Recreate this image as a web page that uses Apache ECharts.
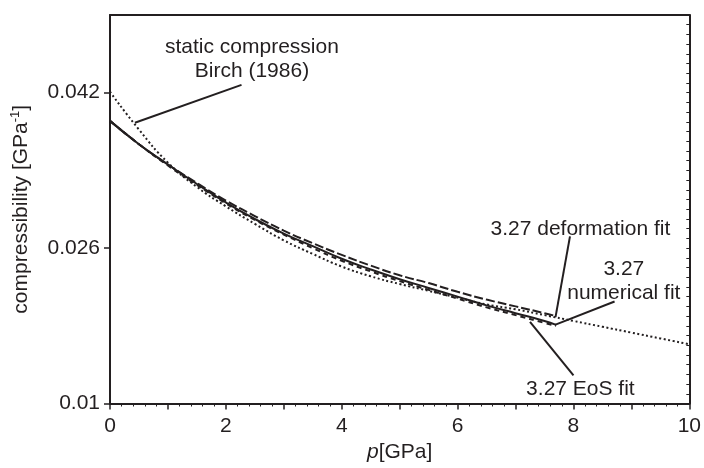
<!DOCTYPE html>
<html>
<head>
<meta charset="utf-8">
<script src="https://cdn.jsdelivr.net/npm/echarts@6/dist/echarts.min.js"></script>
<style>html,body{margin:0;padding:0;background:#fff}#c{width:704px;height:468px}</style>
</head>
<body>
<div id="c"></div>
<script>
// ---- data ----
const pressureFit = [0,0.5,1,1.5,2,2.5,3,3.5,4,4.5,5,5.5,6,6.5,7,7.5,7.7];
const numericalFit = [0.0391,0.0367,0.0346,0.0326,0.0307,0.0290,0.0275,0.0262,0.0249,0.0238,0.0228,0.0219,0.0210,0.0201,0.0193,0.0185,0.0181];
const deformationFit = [0.0391,0.0367,0.0346,0.0327,0.0309,0.0293,0.0278,0.0265,0.0253,0.0242,0.0232,0.0224,0.0215,0.0207,0.0200,0.0193,0.0190];
const eosFit = [0.0391,0.0367,0.0345,0.0325,0.0306,0.0289,0.0274,0.0260,0.0247,0.0236,0.0226,0.0217,0.0208,0.0199,0.0191,0.0183,0.0180];
const pressureBirch = [0,0.5,1,1.5,2,2.5,3,3.5,4,4.5,5,5.5,6,6.5,7,7.5,8,8.5,9,9.5,10];
const birch = [0.0421,0.0382,0.0348,0.0323,0.0303,0.0285,0.0268,0.0254,0.0241,0.0231,0.0223,0.0216,0.0209,0.0202,0.0197,0.0191,0.0185,0.0179,0.0173,0.0167,0.0161];
const yTickValues = [0.01,0.026,0.042];
const xLabelValues = [0,2,4,6,8,10];
// annotation texts and anchors (data coords)
const annotations = [
  {lines:['static compression','Birch (1986)'], at:[2.45,0.0455], from:[0.43,0.0389], to:[2.27,0.0428]},
  {lines:['3.27 deformation fit'], at:[8.12,0.0279], from:[7.69,0.0189], to:[7.94,0.0272]},
  {lines:['3.27','numerical fit'], at:[8.87,0.0226], from:[7.68,0.0181], to:[8.71,0.0205]},
  {lines:['3.27 EoS fit'], at:[8.12,0.0115], from:[7.25,0.0184], to:[8.0,0.0129]}
];

const ink = '#231f20';
const FONT = '"Liberation Sans", Arial, sans-serif';
const pairs = (xs, ys) => xs.map((x,i)=>[x, ys[i]]);

const chart = echarts.init(document.getElementById('c'), null, {renderer:'canvas'});
const option = {
  animation:false,
  backgroundColor:'#fff',
  grid:{left:110, right:12.5, top:15, bottom:64.5, containLabel:false},
  xAxis:[{
    type:'value', min:0, max:10, interval:1,
    axisLine:{onZero:false, lineStyle:{color:ink, width:2}},
    axisTick:{length:6, lineStyle:{color:ink, width:1.5}},
    minorTick:{show:true, splitNumber:5, length:3, lineStyle:{color:ink, width:1}},
    splitLine:{show:false},
    axisLabel:{customValues:xLabelValues, color:ink, fontSize:21, fontFamily:FONT, margin:12},
    name:'{i|p}[GPa]', nameLocation:'middle', nameGap:36,
    nameTextStyle:{color:ink, fontSize:21, fontFamily:FONT, rich:{i:{fontStyle:'italic', fontSize:21, fontFamily:FONT, color:ink}}}
  },{
    type:'value', position:'top', min:0, max:10,
    axisLine:{onZero:false, lineStyle:{color:ink, width:2}},
    axisTick:{show:false}, axisLabel:{show:false}, splitLine:{show:false}
  }],
  yAxis:[{
    type:'value', min:0.01, max:0.05, interval:0.002,
    axisLine:{onZero:false, lineStyle:{color:ink, width:2}},
    axisTick:{customValues:yTickValues, length:6, lineStyle:{color:ink, width:1.5}},
    axisLabel:{customValues:yTickValues, color:ink, fontSize:21, fontFamily:FONT, margin:10,
      formatter:v=>String(+v.toFixed(3))},
    splitLine:{show:false},
    name:'compressibility [GPa{s|-1}]', nameLocation:'middle', nameGap:76,
    nameTextStyle:{color:ink, fontSize:21, fontFamily:FONT, rich:{s:{fontSize:13, fontFamily:FONT, color:ink, padding:[0,0,12,0]}}}
  },{
    type:'value', position:'right', min:0.01, max:0.05, interval:0.001,
    axisLine:{onZero:false, lineStyle:{color:ink, width:2}},
    axisTick:{show:true, inside:true, length:3, lineStyle:{color:ink, width:1}},
    axisLabel:{show:false}, splitLine:{show:false}
  }],
  series:[
    {type:'line', name:'static compression Birch (1986)', data:pairs(pressureBirch, birch), showSymbol:false, smooth:true,
      lineStyle:{color:ink, width:2, type:[2,2.5]}},
    {type:'line', name:'3.27 numerical fit', data:pairs(pressureFit, numericalFit), showSymbol:false, smooth:true,
      lineStyle:{color:ink, width:2, type:'solid'}},
    {type:'line', name:'3.27 deformation fit', data:pairs(pressureFit, deformationFit), showSymbol:false, smooth:true,
      lineStyle:{color:ink, width:2, type:[9,3]}},
    {type:'line', name:'3.27 EoS fit', data:pairs(pressureFit, eosFit), showSymbol:false, smooth:true,
      lineStyle:{color:ink, width:2, type:[5,4]}}
  ]
};
chart.setOption(option);

const graphics = [];
annotations.forEach(a=>{
  const p0 = chart.convertToPixel({gridIndex:0}, a.from);
  const p1 = chart.convertToPixel({gridIndex:0}, a.to);
  graphics.push({type:'line', shape:{x1:p0[0], y1:p0[1], x2:p1[0], y2:p1[1]}, style:{stroke:ink, lineWidth:2}, z:10});
  const c = chart.convertToPixel({gridIndex:0}, a.at);
  const lh = 24;
  const n = a.lines.length;
  a.lines.forEach((t,i)=>{
    graphics.push({type:'text', x:c[0], y:c[1] + (i-(n-1)/2)*lh, z:10,
      style:{text:t, fill:ink, font:'21px ' + FONT, align:'center', verticalAlign:'middle'}});
  });
});
chart.setOption({graphic:graphics});
</script>
</body>
</html>
